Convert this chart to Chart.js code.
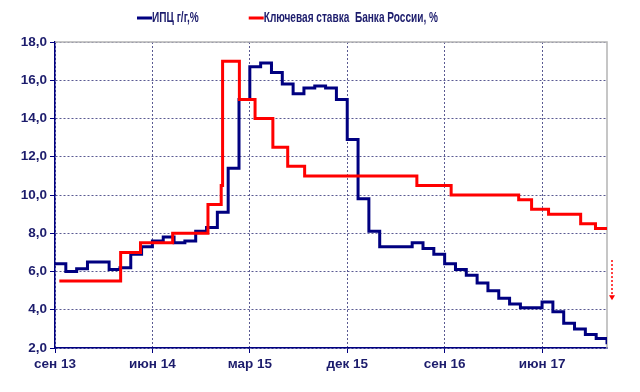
<!DOCTYPE html>
<html>
<head>
<meta charset="utf-8">
<script src="https://cdn.jsdelivr.net/npm/chart.js@4.4.0/dist/chart.umd.min.js"></script>
<style>
  html, body { margin: 0; padding: 0; background: #fff; }
  #wrap { width: 640px; height: 392px; }
</style>
</head>
<body>
<div id="wrap"><canvas id="chart" width="640" height="392"></canvas></div>
<script>
// ── DATA ──
const CPI_LABEL   = 'ИПЦ г/г,%';
const RATE_LABEL  = 'Ключевая ставка  Банка России, %';
const AXIS_START  = [2013, 9];            // month index 0 = сен 13
const AXIS_END    = 51;                   // last month index on the axis
const TICK_STEP   = 9;
const tickLabels  = ['сен 13', 'июн 14', 'мар 15', 'дек 15', 'сен 16', 'июн 17'];

// CPI y/y, one value per month from сен 13
const cpiValues = [
    6.4, 6.0, 6.15, 6.5, 6.5, 6.1, 6.2, 6.9, 7.3, 7.6,
    7.8, 7.5, 7.6, 8.1, 8.3, 9.1, 11.4, 15.0, 16.7, 16.9,
    16.4, 15.8, 15.3, 15.6, 15.7, 15.6, 15.0, 12.9, 9.8, 8.1,
    7.3, 7.3, 7.3, 7.5, 7.2, 6.9, 6.4, 6.1, 5.8, 5.4,
    5.0, 4.6, 4.3, 4.1, 4.1, 4.4, 3.9, 3.3, 3.0, 2.7,
    2.5, 2.2
];

// Key rate: date of each decision and the new rate
const rateDates = [
    '2013-09-13', '2014-03-03', '2014-04-28', '2014-07-28', '2014-11-05',
    '2014-12-12', '2014-12-16', '2015-02-02', '2015-03-16', '2015-05-05',
    '2015-06-16', '2015-08-03', '2016-06-14', '2016-09-19', '2017-03-27',
    '2017-05-02', '2017-06-19', '2017-09-18', '2017-10-30'
];
const rateValues = [
    5.5, 7.0, 7.5, 8.0, 9.5,
    10.5, 17.0, 15.0, 14.0, 12.5,
    11.5, 11.0, 10.5, 10.0, 9.75,
    9.25, 9.0, 8.5, 8.25
];

// dotted arrow at the right edge (from / to, in % on the y axis)
const arrowFrom = 6.6;
const arrowTo   = 4.5;

// ── COLOURS ──
const NAVY  = '#000080';
const RED   = '#FF0000';
const TEXT  = '#1c1c6c';
const GRID  = '#5a5a92';
const FRAME = '#b4b4b4';
const FONT  = "'Liberation Sans', Arial, sans-serif";

// date string -> fractional month index on the x axis
function monthIndex(s) {
    const [y, m, d] = s.split('-').map(Number);
    const days = new Date(y, m, 0).getDate();
    return (y - AXIS_START[0]) * 12 + (m - AXIS_START[1]) + (d - 1) / days;
}

const cpiPoints  = cpiValues.map((v, i) => ({ x: i, y: v }));
const ratePoints = rateDates.map((d, i) => ({ x: monthIndex(d), y: rateValues[i] }));
ratePoints.push({ x: AXIS_END, y: rateValues[rateValues.length - 1] });

// ── PLUGINS ──
// legend drawn by hand: condensed bold text, short line markers
const topLegend = {
    id: 'topLegend',
    afterDraw(chart) {
        const ctx = chart.ctx;
        const y = 18;
        const squeeze = 0.72;
        let x = 137;
        ctx.save();
        ctx.font = 'bold 14px ' + FONT;
        ctx.textBaseline = 'middle';
        chart.data.datasets.forEach(ds => {
            ctx.fillStyle = ds.borderColor;
            ctx.fillRect(x, y - 1.5, 15, 3);
            x += 15;
            ctx.save();
            ctx.translate(x, y);
            ctx.scale(squeeze, 1);
            ctx.fillStyle = TEXT;
            ctx.fillText(ds.label, 0, 0);
            ctx.restore();
            x += ctx.measureText(ds.label).width * squeeze + 50;
        });
        ctx.restore();
    }
};

// gray frame on top/right, red dotted arrow beside the plot
const frameAndArrow = {
    id: 'frameAndArrow',
    beforeDatasetsDraw(chart) {
        const { ctx, chartArea: a } = chart;
        ctx.save();
        ctx.strokeStyle = FRAME;
        ctx.lineWidth = 1.5;
        ctx.beginPath();
        ctx.moveTo(a.left, a.top);
        ctx.lineTo(a.right, a.top);
        ctx.lineTo(a.right, a.bottom);
        ctx.stroke();
        ctx.restore();
    },
    afterDraw(chart) {
        const { ctx, chartArea: a, scales } = chart;
        const x  = a.right + 5;
        const y1 = scales.y.getPixelForValue(arrowFrom);
        const y2 = scales.y.getPixelForValue(arrowTo);
        ctx.save();
        ctx.strokeStyle = RED;
        ctx.fillStyle = RED;
        ctx.lineWidth = 1.5;
        ctx.setLineDash([2, 2]);
        ctx.beginPath();
        ctx.moveTo(x, y1);
        ctx.lineTo(x, y2 - 4);
        ctx.stroke();
        ctx.setLineDash([]);
        ctx.beginPath();
        ctx.moveTo(x - 3, y2 - 5);
        ctx.lineTo(x + 3, y2 - 5);
        ctx.lineTo(x, y2);
        ctx.closePath();
        ctx.fill();
        ctx.restore();
    }
};

// ── CHART ──
new Chart(document.getElementById('chart'), {
    type: 'line',
    data: {
        datasets: [
            {
                label: CPI_LABEL,
                data: cpiPoints,
                borderColor: NAVY,
                backgroundColor: NAVY,
                borderWidth: 3,
                pointRadius: 0,
                stepped: true,
                fill: false,
                order: 1
            },
            {
                label: RATE_LABEL,
                data: ratePoints,
                borderColor: RED,
                backgroundColor: RED,
                borderWidth: 3,
                pointRadius: 0,
                stepped: true,
                fill: false,
                order: 0
            }
        ]
    },
    options: {
        responsive: false,
        animation: false,
        devicePixelRatio: 1,
        layout: { padding: { top: 42, right: 33, left: 0, bottom: 0 } },
        plugins: {
            legend: { display: false },
            tooltip: { enabled: false }
        },
        scales: {
            x: {
                type: 'linear',
                min: 0,
                max: AXIS_END,
                afterFit: (s) => { s.height = 44; },
                ticks: {
                    stepSize: TICK_STEP,
                    includeBounds: false,
                    autoSkip: false,
                    maxRotation: 0,
                    padding: 3,
                    color: TEXT,
                    font: { family: FONT, size: 13.5, weight: 'bold' },
                    callback: (v) => tickLabels[Math.round(v / TICK_STEP)] || ''
                },
                grid: { color: GRID, lineWidth: 1, tickLength: 5, tickColor: NAVY },
                border: { color: NAVY, width: 1.5, dash: [2, 2] }
            },
            y: {
                min: 2,
                max: 18,
                afterFit: (s) => { s.width = 55; },
                ticks: {
                    stepSize: 2,
                    padding: 3,
                    color: TEXT,
                    font: { family: FONT, size: 13.5, weight: 'bold' },
                    callback: (v) => v.toFixed(1).replace('.', ',')
                },
                grid: { color: GRID, lineWidth: 1, tickLength: 5, tickColor: NAVY },
                border: { color: NAVY, width: 1.5, dash: [2, 2] }
            }
        }
    },
    plugins: [topLegend, frameAndArrow]
});
</script>
</body>
</html>
